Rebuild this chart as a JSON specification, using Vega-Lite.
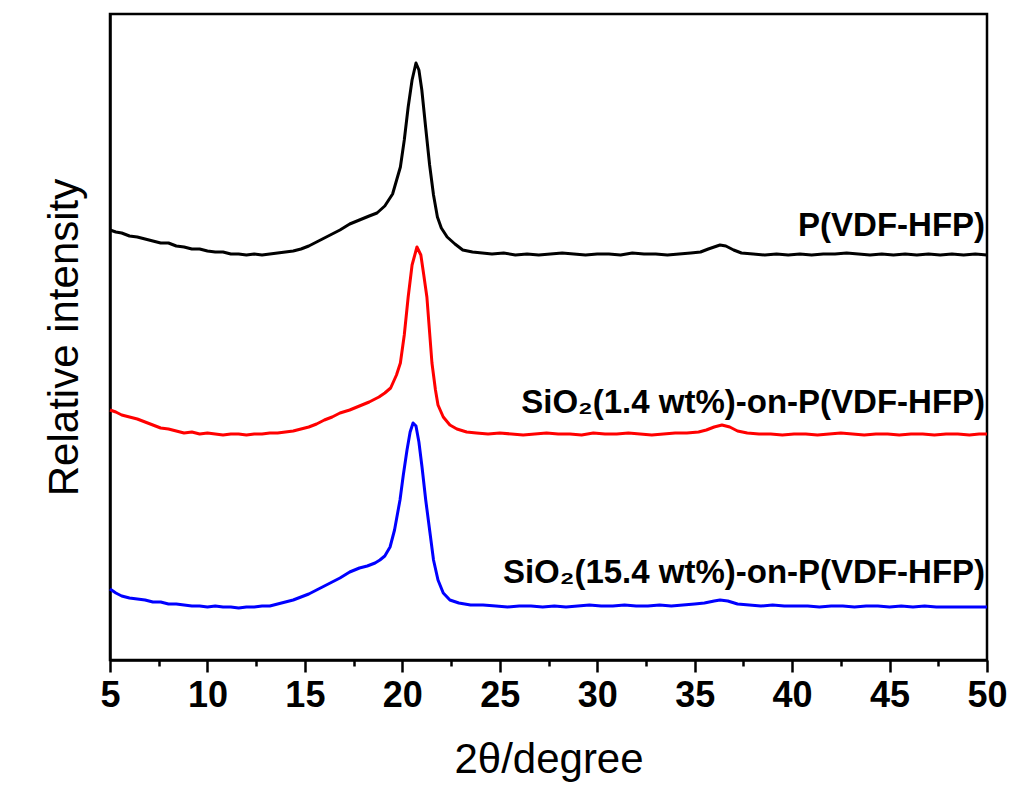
{
  "$schema": "https://vega.github.io/schema/vega-lite/v6.json",
  "width": 877,
  "height": 646,
  "autosize": {"type": "none"},
  "padding": {"left": 110, "top": 14, "right": 33, "bottom": 141},
  "background": "white",
  "config": {
    "view": {"stroke": "black", "strokeWidth": 2.5},
    "font": "Liberation Sans"
  },
  "datasets": {
    "curves": [
      {"s":"a","x":5.0,"y":430},{"s":"a","x":5.3,"y":428},{"s":"a","x":5.6,"y":427},{"s":"a","x":6.0,"y":424},{"s":"a","x":6.4,"y":423},{"s":"a","x":6.8,"y":421},{"s":"a","x":7.2,"y":419},{"s":"a","x":7.6,"y":417},{"s":"a","x":8.0,"y":417},{"s":"a","x":8.4,"y":414},{"s":"a","x":8.8,"y":413},{"s":"a","x":9.2,"y":411},{"s":"a","x":9.6,"y":411},{"s":"a","x":10.0,"y":409},{"s":"a","x":10.4,"y":408},{"s":"a","x":10.8,"y":408},{"s":"a","x":11.2,"y":406},{"s":"a","x":11.6,"y":406},{"s":"a","x":12.0,"y":405},{"s":"a","x":12.4,"y":406},{"s":"a","x":12.8,"y":405},{"s":"a","x":13.2,"y":406},{"s":"a","x":13.6,"y":407},{"s":"a","x":14.0,"y":408},{"s":"a","x":14.4,"y":409},{"s":"a","x":14.8,"y":411},{"s":"a","x":15.2,"y":414},{"s":"a","x":15.6,"y":418},{"s":"a","x":16.0,"y":422},{"s":"a","x":16.4,"y":426},{"s":"a","x":16.8,"y":430},{"s":"a","x":17.3,"y":436},{"s":"a","x":17.8,"y":440},{"s":"a","x":18.3,"y":444},{"s":"a","x":18.7,"y":447},{"s":"a","x":19.1,"y":454},{"s":"a","x":19.5,"y":466},{"s":"a","x":19.9,"y":493},{"s":"a","x":20.1,"y":520},{"s":"a","x":20.3,"y":553},{"s":"a","x":20.5,"y":580},{"s":"a","x":20.7,"y":597},{"s":"a","x":20.85,"y":590},{"s":"a","x":21.0,"y":570},{"s":"a","x":21.2,"y":532},{"s":"a","x":21.4,"y":495},{"s":"a","x":21.6,"y":465},{"s":"a","x":21.8,"y":443},{"s":"a","x":22.0,"y":432},{"s":"a","x":22.3,"y":423},{"s":"a","x":22.7,"y":416},{"s":"a","x":23.1,"y":410},{"s":"a","x":23.6,"y":408},{"s":"a","x":24.1,"y":407},{"s":"a","x":24.6,"y":406},{"s":"a","x":25.2,"y":407},{"s":"a","x":25.8,"y":405},{"s":"a","x":26.4,"y":406},{"s":"a","x":27.0,"y":405},{"s":"a","x":27.6,"y":406},{"s":"a","x":28.2,"y":407},{"s":"a","x":28.8,"y":406},{"s":"a","x":29.4,"y":405},{"s":"a","x":30.0,"y":406},{"s":"a","x":30.6,"y":406},{"s":"a","x":31.2,"y":405},{"s":"a","x":31.8,"y":407},{"s":"a","x":32.4,"y":406},{"s":"a","x":33.0,"y":406},{"s":"a","x":33.6,"y":405},{"s":"a","x":34.2,"y":406},{"s":"a","x":34.8,"y":407},{"s":"a","x":35.3,"y":408},{"s":"a","x":35.7,"y":411},{"s":"a","x":36.0,"y":413},{"s":"a","x":36.3,"y":415},{"s":"a","x":36.6,"y":414},{"s":"a","x":37.0,"y":410},{"s":"a","x":37.4,"y":407},{"s":"a","x":38.0,"y":406},{"s":"a","x":38.6,"y":405},{"s":"a","x":39.2,"y":406},{"s":"a","x":39.8,"y":405},{"s":"a","x":40.4,"y":406},{"s":"a","x":41.0,"y":405},{"s":"a","x":41.6,"y":406},{"s":"a","x":42.2,"y":406},{"s":"a","x":42.8,"y":407},{"s":"a","x":43.4,"y":406},{"s":"a","x":44.0,"y":405},{"s":"a","x":44.6,"y":406},{"s":"a","x":45.2,"y":405},{"s":"a","x":45.8,"y":406},{"s":"a","x":46.4,"y":405},{"s":"a","x":47.0,"y":406},{"s":"a","x":47.6,"y":405},{"s":"a","x":48.2,"y":406},{"s":"a","x":48.8,"y":405},{"s":"a","x":49.4,"y":406},{"s":"a","x":50.0,"y":405},

      {"s":"b","x":5.0,"y":250},{"s":"b","x":5.3,"y":248},{"s":"b","x":5.6,"y":245},{"s":"b","x":6.0,"y":243},{"s":"b","x":6.4,"y":241},{"s":"b","x":6.8,"y":238},{"s":"b","x":7.2,"y":235},{"s":"b","x":7.6,"y":232},{"s":"b","x":8.0,"y":231},{"s":"b","x":8.4,"y":229},{"s":"b","x":8.8,"y":227},{"s":"b","x":9.2,"y":228},{"s":"b","x":9.6,"y":226},{"s":"b","x":10.0,"y":227},{"s":"b","x":10.4,"y":226},{"s":"b","x":10.8,"y":225},{"s":"b","x":11.2,"y":226},{"s":"b","x":11.6,"y":226},{"s":"b","x":12.0,"y":225},{"s":"b","x":12.4,"y":226},{"s":"b","x":12.8,"y":226},{"s":"b","x":13.2,"y":227},{"s":"b","x":13.6,"y":227},{"s":"b","x":14.0,"y":228},{"s":"b","x":14.4,"y":229},{"s":"b","x":14.8,"y":231},{"s":"b","x":15.2,"y":233},{"s":"b","x":15.6,"y":236},{"s":"b","x":16.0,"y":240},{"s":"b","x":16.4,"y":243},{"s":"b","x":16.8,"y":247},{"s":"b","x":17.3,"y":250},{"s":"b","x":17.8,"y":254},{"s":"b","x":18.3,"y":258},{"s":"b","x":18.8,"y":263},{"s":"b","x":19.1,"y":267},{"s":"b","x":19.4,"y":272},{"s":"b","x":19.7,"y":285},{"s":"b","x":19.9,"y":297},{"s":"b","x":20.1,"y":325},{"s":"b","x":20.3,"y":363},{"s":"b","x":20.5,"y":395},{"s":"b","x":20.75,"y":413},{"s":"b","x":20.95,"y":405},{"s":"b","x":21.1,"y":385},{"s":"b","x":21.26,"y":363},{"s":"b","x":21.52,"y":297},{"s":"b","x":21.7,"y":270},{"s":"b","x":21.83,"y":255},{"s":"b","x":22.1,"y":243},{"s":"b","x":22.44,"y":235},{"s":"b","x":22.8,"y":231},{"s":"b","x":23.3,"y":228},{"s":"b","x":23.8,"y":227},{"s":"b","x":24.4,"y":226},{"s":"b","x":25.0,"y":227},{"s":"b","x":25.6,"y":226},{"s":"b","x":26.2,"y":225},{"s":"b","x":26.8,"y":226},{"s":"b","x":27.4,"y":227},{"s":"b","x":28.0,"y":226},{"s":"b","x":28.6,"y":226},{"s":"b","x":29.2,"y":225},{"s":"b","x":29.8,"y":227},{"s":"b","x":30.4,"y":226},{"s":"b","x":31.0,"y":226},{"s":"b","x":31.6,"y":227},{"s":"b","x":32.2,"y":226},{"s":"b","x":32.8,"y":225},{"s":"b","x":33.4,"y":226},{"s":"b","x":34.0,"y":227},{"s":"b","x":34.6,"y":227},{"s":"b","x":35.2,"y":228},{"s":"b","x":35.6,"y":230},{"s":"b","x":36.0,"y":233},{"s":"b","x":36.4,"y":235},{"s":"b","x":36.8,"y":233},{"s":"b","x":37.2,"y":229},{"s":"b","x":37.7,"y":227},{"s":"b","x":38.3,"y":226},{"s":"b","x":38.9,"y":226},{"s":"b","x":39.5,"y":225},{"s":"b","x":40.1,"y":226},{"s":"b","x":40.7,"y":226},{"s":"b","x":41.3,"y":225},{"s":"b","x":41.9,"y":226},{"s":"b","x":42.5,"y":227},{"s":"b","x":43.1,"y":226},{"s":"b","x":43.7,"y":225},{"s":"b","x":44.3,"y":226},{"s":"b","x":44.9,"y":226},{"s":"b","x":45.5,"y":225},{"s":"b","x":46.1,"y":226},{"s":"b","x":46.7,"y":226},{"s":"b","x":47.3,"y":225},{"s":"b","x":47.9,"y":226},{"s":"b","x":48.5,"y":226},{"s":"b","x":49.1,"y":225},{"s":"b","x":49.6,"y":226},{"s":"b","x":50.0,"y":226},

      {"s":"c","x":5.0,"y":71},{"s":"c","x":5.3,"y":67},{"s":"c","x":5.6,"y":64},{"s":"c","x":6.0,"y":62},{"s":"c","x":6.4,"y":61},{"s":"c","x":6.8,"y":60},{"s":"c","x":7.2,"y":58},{"s":"c","x":7.6,"y":58},{"s":"c","x":8.0,"y":56},{"s":"c","x":8.4,"y":56},{"s":"c","x":8.8,"y":55},{"s":"c","x":9.2,"y":54},{"s":"c","x":9.6,"y":54},{"s":"c","x":10.0,"y":53},{"s":"c","x":10.4,"y":54},{"s":"c","x":10.8,"y":53},{"s":"c","x":11.2,"y":53},{"s":"c","x":11.6,"y":52},{"s":"c","x":12.0,"y":53},{"s":"c","x":12.4,"y":53},{"s":"c","x":12.8,"y":54},{"s":"c","x":13.2,"y":54},{"s":"c","x":13.6,"y":56},{"s":"c","x":14.0,"y":58},{"s":"c","x":14.4,"y":60},{"s":"c","x":14.8,"y":63},{"s":"c","x":15.2,"y":66},{"s":"c","x":15.6,"y":70},{"s":"c","x":16.0,"y":74},{"s":"c","x":16.4,"y":78},{"s":"c","x":16.8,"y":82},{"s":"c","x":17.3,"y":88},{"s":"c","x":17.8,"y":92},{"s":"c","x":18.2,"y":94},{"s":"c","x":18.6,"y":97},{"s":"c","x":18.85,"y":100},{"s":"c","x":19.1,"y":104},{"s":"c","x":19.37,"y":113},{"s":"c","x":19.6,"y":130},{"s":"c","x":19.88,"y":160},{"s":"c","x":20.05,"y":185},{"s":"c","x":20.24,"y":210},{"s":"c","x":20.4,"y":228},{"s":"c","x":20.55,"y":237},{"s":"c","x":20.7,"y":234},{"s":"c","x":20.85,"y":218},{"s":"c","x":21.01,"y":193},{"s":"c","x":21.2,"y":160},{"s":"c","x":21.42,"y":127},{"s":"c","x":21.6,"y":100},{"s":"c","x":21.83,"y":80},{"s":"c","x":22.1,"y":67},{"s":"c","x":22.44,"y":60},{"s":"c","x":22.9,"y":57},{"s":"c","x":23.5,"y":55},{"s":"c","x":24.14,"y":55},{"s":"c","x":24.8,"y":54},{"s":"c","x":25.4,"y":53},{"s":"c","x":26.0,"y":54},{"s":"c","x":26.6,"y":54},{"s":"c","x":27.2,"y":53},{"s":"c","x":27.8,"y":54},{"s":"c","x":28.4,"y":53},{"s":"c","x":29.0,"y":54},{"s":"c","x":29.6,"y":55},{"s":"c","x":30.2,"y":54},{"s":"c","x":30.8,"y":54},{"s":"c","x":31.4,"y":55},{"s":"c","x":32.0,"y":54},{"s":"c","x":32.6,"y":54},{"s":"c","x":33.2,"y":55},{"s":"c","x":33.8,"y":54},{"s":"c","x":34.4,"y":55},{"s":"c","x":35.0,"y":56},{"s":"c","x":35.5,"y":57},{"s":"c","x":36.0,"y":59},{"s":"c","x":36.3,"y":60},{"s":"c","x":36.7,"y":59},{"s":"c","x":37.2,"y":56},{"s":"c","x":37.8,"y":55},{"s":"c","x":38.4,"y":54},{"s":"c","x":39.0,"y":55},{"s":"c","x":39.6,"y":54},{"s":"c","x":40.2,"y":54},{"s":"c","x":40.8,"y":54},{"s":"c","x":41.4,"y":53},{"s":"c","x":42.0,"y":54},{"s":"c","x":42.6,"y":54},{"s":"c","x":43.2,"y":53},{"s":"c","x":43.8,"y":54},{"s":"c","x":44.4,"y":54},{"s":"c","x":45.0,"y":53},{"s":"c","x":45.6,"y":54},{"s":"c","x":46.2,"y":53},{"s":"c","x":46.8,"y":54},{"s":"c","x":47.4,"y":53},{"s":"c","x":48.0,"y":53},{"s":"c","x":48.6,"y":53},{"s":"c","x":49.2,"y":53},{"s":"c","x":50.0,"y":53}
    ],
    "labels": [
      {"x": 49.9, "y": 424, "t": "P(VDF-HFP)"},
      {"x": 49.9, "y": 247, "t": "SiO₂(1.4 wt%)-on-P(VDF-HFP)"},
      {"x": 49.9, "y": 77, "t": "SiO₂(15.4 wt%)-on-P(VDF-HFP)"}
    ]
  },
  "encoding": {
    "x": {
      "field": "x", "type": "quantitative",
      "scale": {"domain": [5, 50], "nice": false, "zero": false},
      "axis": {
        "orient": "bottom",
        "values": [5, 7.5, 10, 12.5, 15, 17.5, 20, 22.5, 25, 27.5, 30, 32.5, 35, 37.5, 40, 42.5, 45, 47.5, 50],
        "labelExpr": "datum.value % 5 === 0 ? datum.label : ''",
        "title": "2θ/degree",
        "titleFont": "Liberation Sans",
        "titleFontSize": 42,
        "titleFontWeight": "normal",
        "titleColor": "black",
        "titlePadding": 26,
        "labelFont": "Liberation Sans",
        "labelFontSize": 36,
        "labelFontWeight": "bold",
        "labelColor": "black",
        "labelPadding": 6,
        "labelFlush": false,
        "labelOverlap": false,
        "tickSize": {"condition": {"test": "datum.value % 5 === 0", "value": 12}, "value": 6},
        "tickWidth": 2.5,
        "tickColor": "black",
        "domainColor": "black",
        "domainWidth": 2.5,
        "grid": false
      }
    },
    "y": {
      "field": "y", "type": "quantitative",
      "scale": {"domain": [0, 646], "nice": false},
      "axis": {
        "title": "Relative intensity",
        "titleFont": "Liberation Sans",
        "titleFontSize": 42,
        "titleFontWeight": "normal",
        "titleColor": "black",
        "titlePadding": 24,
        "labels": false,
        "ticks": false,
        "grid": false,
        "domainColor": "black",
        "domainWidth": 2.5
      }
    }
  },
  "layer": [
    {
      "data": {"name": "curves"},
      "mark": {"type": "line", "strokeWidth": 3, "strokeJoin": "round"},
      "encoding": {
        "color": {
          "field": "s", "type": "nominal",
          "scale": {"domain": ["a", "b", "c"], "range": ["#000000", "#ff0000", "#0000ff"]},
          "legend": null
        }
      }
    },
    {
      "data": {"name": "labels"},
      "mark": {"type": "text", "align": "right", "baseline": "alphabetic", "font": "Liberation Sans", "fontSize": 33, "fontWeight": "bold", "color": "black"},
      "encoding": {
        "text": {"field": "t"}
      }
    }
  ]
}
